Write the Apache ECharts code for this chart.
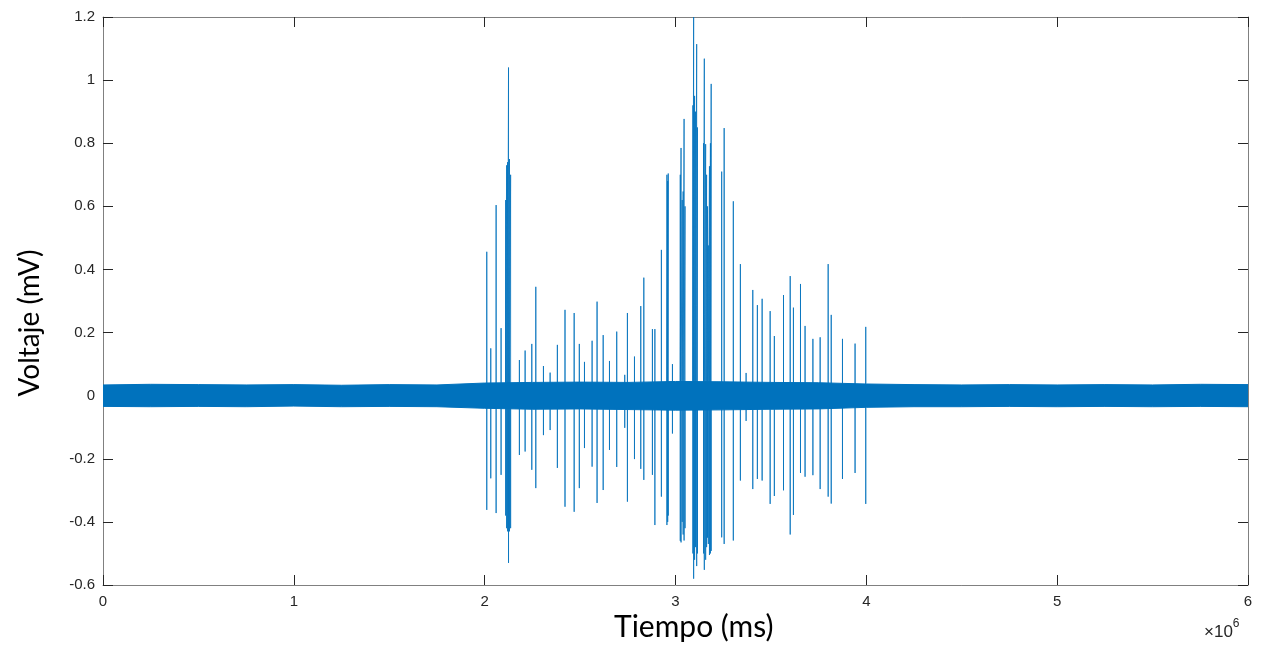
<!DOCTYPE html>
<html><head><meta charset="utf-8">
<script src="https://cdn.jsdelivr.net/npm/echarts@6/dist/echarts.min.js"></script>
<style>html,body{margin:0;padding:0;background:#fff}#c{width:1261px;height:645px}</style>
</head><body><div id="c"></div>
<script>
// Time in units of 1e6 ms
var xTicks = [0, 1, 2, 3, 4, 5, 6];
var yTicks = [-0.6, -0.4, -0.2, 0, 0.2, 0.4, 0.6, 0.8, 1, 1.2];

// Noise band envelope
var bandX     = [0, 0.25, 0.5, 0.75, 1, 1.25, 1.5, 1.75, 2, 2.25, 2.5, 2.75, 3, 3.25, 3.5, 3.75, 4, 4.25, 4.5, 4.75, 5, 5.25, 5.5, 5.75, 6];
var bandUpper = [0.034, 0.036, 0.035, 0.034, 0.035, 0.033, 0.035, 0.034, 0.040, 0.042, 0.043, 0.042, 0.045, 0.044, 0.042, 0.041, 0.037, 0.035, 0.034, 0.035, 0.034, 0.035, 0.034, 0.036, 0.035];
var bandLower = [-0.034, -0.035, -0.034, -0.035, -0.033, -0.035, -0.034, -0.035, -0.040, -0.043, -0.042, -0.044, -0.046, -0.045, -0.043, -0.042, -0.037, -0.035, -0.035, -0.034, -0.035, -0.034, -0.035, -0.034, -0.035];

// Spikes: time (x1e6 ms), peak, trough
var spikeX = [2.011, 2.032, 2.060, 2.086, 2.110, 2.115, 2.120, 2.125, 2.130, 2.136, 2.182, 2.212, 2.247, 2.268, 2.308, 2.343, 2.381, 2.421, 2.469, 2.496, 2.523, 2.563, 2.589, 2.621, 2.654, 2.692, 2.734, 2.748, 2.785, 2.818, 2.834, 2.879, 2.892, 2.926, 2.955, 2.959, 2.962, 2.984, 3.025, 3.029, 3.035, 3.040, 3.045, 3.050, 3.091, 3.095, 3.100, 3.105, 3.111, 3.115, 3.147, 3.151, 3.158, 3.163, 3.168, 3.172, 3.178, 3.183, 3.187, 3.242, 3.255, 3.303, 3.340, 3.370, 3.405, 3.429, 3.454, 3.496, 3.518, 3.566, 3.601, 3.618, 3.655, 3.679, 3.720, 3.758, 3.800, 3.816, 3.875, 3.941, 3.997];
var spikeTop = [0.456, 0.150, 0.604, 0.214, 0.62, 0.73, 0.74, 1.04, 0.75, 0.70, 0.113, 0.143, 0.164, 0.345, 0.094, 0.073, 0.161, 0.272, 0.262, 0.164, 0.107, 0.174, 0.298, 0.192, 0.110, 0.203, 0.066, 0.262, 0.124, 0.284, 0.374, 0.211, 0.211, 0.462, 0.70, 0.68, 0.704, 0.10, 0.70, 0.785, 0.62, 0.647, 0.877, 0.60, 0.92, 1.2, 0.95, 0.90, 1.114, 0.85, 0.80, 1.068, 0.797, 0.70, 0.60, 0.476, 0.727, 0.80, 0.988, 0.71, 0.848, 0.616, 0.417, 0.072, 0.335, 0.287, 0.307, 0.268, 0.189, 0.319, 0.379, 0.279, 0.354, 0.221, 0.180, 0.185, 0.417, 0.256, 0.180, 0.165, 0.218];
var spikeBot = [-0.362, -0.262, -0.372, -0.251, -0.38, -0.42, -0.43, -0.53, -0.43, -0.42, -0.188, -0.177, -0.235, -0.293, -0.125, -0.109, -0.229, -0.352, -0.368, -0.293, -0.166, -0.225, -0.340, -0.299, -0.172, -0.226, -0.102, -0.336, -0.201, -0.232, -0.267, -0.251, -0.410, -0.320, -0.41, -0.40, -0.38, -0.12, -0.46, -0.465, -0.40, -0.44, -0.459, -0.42, -0.50, -0.58, -0.52, -0.48, -0.54, -0.50, -0.50, -0.552, -0.52, -0.48, -0.45, -0.47, -0.505, -0.50, -0.492, -0.449, -0.47, -0.459, -0.269, -0.08, -0.296, -0.264, -0.269, -0.343, -0.318, -0.30, -0.44, -0.378, -0.245, -0.257, -0.252, -0.296, -0.32, -0.342, -0.264, -0.245, -0.343];

var SCALE = 1e6;
var blue = '#0072BD';
var bandData = bandX.map(function (x, i) { return [x * SCALE, bandUpper[i], bandLower[i]]; });
var spikeData = [];
spikeX.forEach(function (x, i) {
  var t = x * SCALE;
  spikeData.push([t, 0], [t, spikeTop[i]], [t, spikeBot[i]], [t, 0]);
});

function renderBand(params, api) {
  if (params.dataIndex !== 0) return null;
  var pts = [];
  for (var i = 0; i < bandData.length; i++) pts.push(api.coord([bandData[i][0], bandData[i][1]]));
  for (var j = bandData.length - 1; j >= 0; j--) pts.push(api.coord([bandData[j][0], bandData[j][2]]));
  return { type: 'polygon', shape: { points: pts }, style: { fill: blue, stroke: blue, lineWidth: 1 } };
}

var axisCol = '#808080', txt = '#262626';
var chart = echarts.init(document.getElementById('c'));
chart.setOption({
  animation: false,
  grid: { left: 103, right: 13, top: 17, bottom: 60, containLabel: false },
  xAxis: [{
    type: 'value', min: 0, max: 6 * SCALE, interval: SCALE,
    axisLine: { show: true, onZero: false, lineStyle: { color: axisCol, width: 1 } },
    axisTick: { show: true, inside: true, length: 10, lineStyle: { color: txt } },
    axisLabel: { color: txt, fontSize: 15, fontFamily: 'Liberation Sans', margin: 9, formatter: function (v) { return String(Math.round(v / SCALE)); } },
    splitLine: { show: false }
  }, {
    type: 'value', position: 'top', min: 0, max: 6 * SCALE, interval: SCALE,
    axisLine: { show: true, onZero: false, lineStyle: { color: axisCol, width: 1 } },
    axisTick: { show: true, inside: true, length: 10, lineStyle: { color: txt } },
    axisLabel: { show: false }, splitLine: { show: false }
  }],
  yAxis: [{
    type: 'value', min: -0.6, max: 1.2, interval: 0.2,
    axisLine: { show: true, onZero: false, lineStyle: { color: axisCol, width: 1 } },
    axisTick: { show: true, inside: true, length: 10, lineStyle: { color: txt } },
    axisLabel: { color: txt, fontSize: 15, fontFamily: 'Liberation Sans', margin: 8, formatter: function (v) { var r = Math.round(v * 10) / 10; return r === 0 ? '0' : String(r); } },
    splitLine: { show: false }
  }, {
    type: 'value', position: 'right', min: -0.6, max: 1.2, interval: 0.2,
    axisLine: { show: true, onZero: false, lineStyle: { color: axisCol, width: 1 } },
    axisTick: { show: true, inside: true, length: 10, lineStyle: { color: txt } },
    axisLabel: { show: false }, splitLine: { show: false }
  }],
  series: [
    { type: 'custom', data: bandData, renderItem: renderBand, encode: { x: 0, y: [1, 2] }, clip: true, z: 3 },
    { type: 'line', data: spikeData, showSymbol: false, symbol: 'none', lineStyle: { color: blue, width: 1, opacity: 0.8 }, z: 2 }
  ],
  graphic: [
    { type: 'text', left: 614, top: 612, style: { text: 'Tiempo (ms)', fill: '#000', font: '30px Lato' } },
    { type: 'text', x: 30, y: 323, rotation: Math.PI / 2, style: { text: 'Voltaje (mV)', fill: '#000', font: '28px Lato', textAlign: 'center', textVerticalAlign: 'middle' } },
    { type: 'text', left: 1204, top: 618, style: { text: '{a|×10}{b|6}', rich: { a: { fontSize: 17, fontFamily: 'Liberation Sans', fill: txt, padding: [9, 0, 0, 0] }, b: { fontSize: 12, fontFamily: 'Liberation Sans', fill: txt, padding: [0, 0, 7, 0] } } } }
  ]
});
</script></body></html>
